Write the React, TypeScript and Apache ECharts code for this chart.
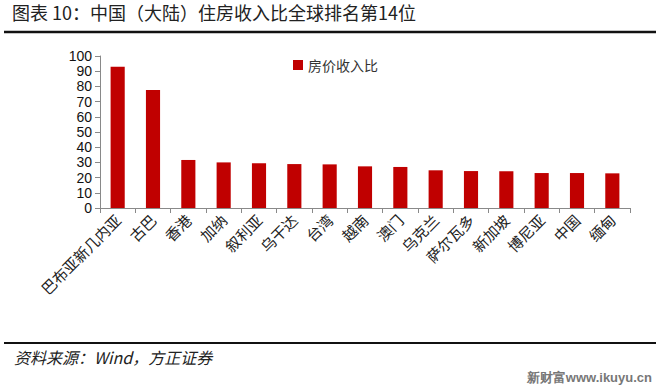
import React, { useEffect, useRef } from "react";
import * as echarts from "echarts";

const categories = ["巴布亚新几内亚", "古巴", "香港", "加纳", "叙利亚", "乌干达", "台湾", "越南", "澳门", "乌克兰", "萨尔瓦多", "新加坡", "博尼亚", "中国", "缅甸"];
const values = [93.0, 77.6, 31.6, 30.0, 29.4, 28.9, 28.7, 27.4, 27.0, 24.8, 24.3, 24.1, 23.0, 23.0, 22.8];
const seriesName = "房价收入比";
const titleText = "图表 10：中国（大陆）住房收入比全球排名第14位";
const sourceText = "资料来源：Wind，方正证券";
const watermarkText = "新财富www.ikuyu.cn";

export default function App() {
  const ref = useRef<HTMLDivElement>(null);
  useEffect(() => {
    if (!ref.current) return;
    const chart = echarts.init(ref.current, null, { renderer: "svg" });
    chart.setOption({
      animation: false,
      backgroundColor: "#fff",
      grid: { left: 100, right: 30, top: 56, bottom: 184 },
      legend: {
        data: [seriesName],
        left: 288,
        top: 53,
        itemWidth: 10,
        itemHeight: 10,
        itemGap: 6,
        icon: "rect",
        textStyle: { fontSize: 14, color: "#333", fontFamily: "Noto Sans CJK SC" },
      },
      xAxis: {
        type: "category",
        data: categories,
        axisLine: { lineStyle: { color: "#898989", width: 1 } },
        axisTick: { show: true, length: 5, lineStyle: { color: "#898989" } },
        axisLabel: {
          rotate: 45,
          interval: 0,
          margin: 9,
          fontSize: 15,
          color: "#222",
          fontFamily: "Noto Sans CJK SC",
        },
      },
      yAxis: {
        type: "value",
        min: 0,
        max: 100,
        interval: 10,
        splitLine: { show: false },
        axisLine: { show: true, lineStyle: { color: "#898989", width: 1 } },
        axisTick: { show: true, length: 5, lineStyle: { color: "#898989" } },
        axisLabel: { fontSize: 14, lineHeight: 14, color: "#111", margin: 8, fontFamily: "Liberation Sans" },
      },
      series: [
        {
          name: seriesName,
          type: "bar",
          data: values,
          barWidth: "40%",
          itemStyle: { color: "#C00000" },
        },
      ],
      graphic: [
        {
          type: "text",
          left: 12,
          top: 3,
          style: { text: titleText, fontSize: 18, fill: "#222", fontFamily: "Noto Sans CJK SC" },
        },
        {
          type: "line",
          shape: { x1: 4, y1: 32, x2: 656, y2: 32 },
          style: { stroke: "#111", lineWidth: 2.5 },
        },
        {
          type: "line",
          shape: { x1: 4, y1: 343, x2: 656, y2: 343 },
          style: { stroke: "#111", lineWidth: 2 },
        },
        {
          type: "text",
          left: 14,
          top: 349,
          style: { text: sourceText, fontSize: 16, fontStyle: "italic", fill: "#222", fontFamily: "Noto Sans CJK SC" },
        },
        {
          type: "text",
          right: 8,
          top: 371,
          style: { text: watermarkText, fontSize: 13, fontWeight: "bold", fill: "#777", fontFamily: "Liberation Sans" },
        },
      ],
    });
    return () => chart.dispose();
  }, []);
  return <div ref={ref} style={{ width: 660, height: 392, position: "absolute", left: 0, top: 0 }} />;
}
